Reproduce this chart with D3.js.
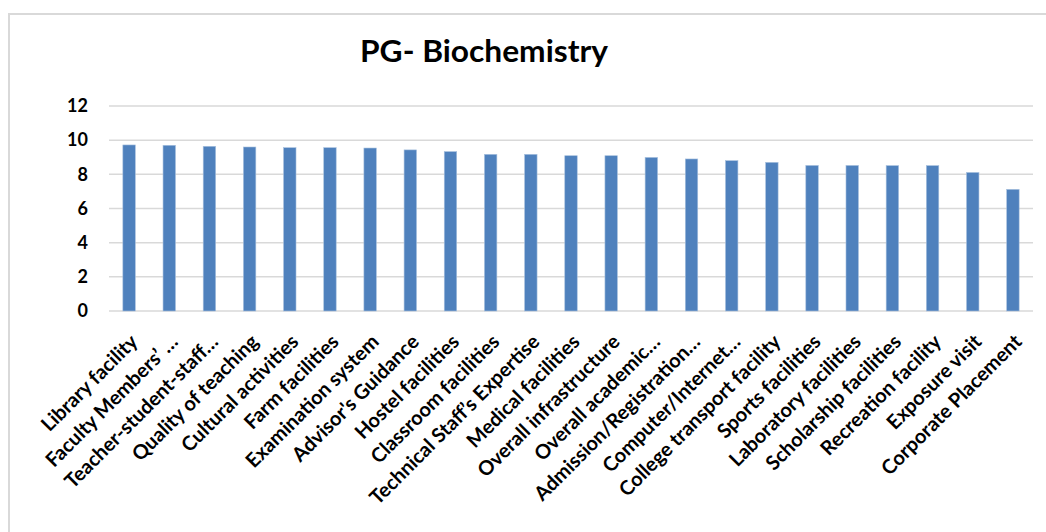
<!DOCTYPE html>
<html lang="en">
<head>
    <meta charset="UTF-8">
    <title>PG- Biochemistry</title>
    <script src="https://d3js.org/d3.v7.min.js"></script>
    <style>
        body { margin: 0; background: #fff; font-family: 'Lato', sans-serif; }
        svg { display: block; }
    </style>
</head>
<body>
    <svg id="chart" width="1046" height="532"></svg>
    <script>
        // chart data
        const categories = [
            "Library facility", "Faculty Members\u2019 \u2026", "Teacher-student-staff\u2026",
            "Quality of teaching", "Cultural activities", "Farm facilities",
            "Examination system", "Advisor's Guidance", "Hostel facilities",
            "Classroom facilities", "Technical Staff\u2019s Expertise", "Medical facilities",
            "Overall infrastructure", "Overall academic\u2026", "Admission/Registration\u2026",
            "Computer/Internet\u2026", "College transport facility", "Sports facilities",
            "Laboratory facilities", "Scholarship facilities", "Recreation facility",
            "Exposure visit", "Corporate Placement"
        ];
        const scores = [9.72, 9.70, 9.64, 9.60, 9.56, 9.56, 9.54, 9.43, 9.33, 9.17, 9.17,
            9.09, 9.09, 8.99, 8.90, 8.80, 8.70, 8.52, 8.52, 8.51, 8.51, 8.11, 7.12];
        const yTicks = [0, 2, 4, 6, 8, 10, 12];

        const svg = d3.select("#chart");
        const margin = { left: 109, right: 1033, top: 106, bottom: 311 };

        // outer chart frame
        svg.append("rect")
            .attr("x", 9).attr("y", 14)
            .attr("width", 1060).attr("height", 540)
            .attr("fill", "none").attr("stroke", "#d9d9d9").attr("stroke-width", 2);

        svg.append("text")
            .attr("x", 484).attr("y", 62)
            .attr("text-anchor", "middle")
            .attr("font-size", 30).attr("font-weight", "bold")
            .attr("textLength", 248).attr("lengthAdjust", "spacingAndGlyphs")
            .attr("fill", "#000")
            .text("PG- Biochemistry");

        const x = d3.scaleBand()
            .domain(categories)
            .range([margin.left, margin.right])
            .paddingInner(0.69).paddingOuter(0.345);

        const y = d3.scaleLinear()
            .domain([0, 12])
            .range([margin.bottom, margin.top]);

        // gridlines
        svg.append("g")
            .selectAll("line")
            .data(yTicks)
            .enter().append("line")
            .attr("x1", margin.left).attr("x2", margin.right)
            .attr("y1", d => y(d)).attr("y2", d => y(d))
            .attr("stroke", "#d9d9d9").attr("stroke-width", 1.5);

        // y axis labels
        const yAxis = d3.axisLeft(y).tickValues(yTicks).tickSize(0).tickPadding(0);
        const yg = svg.append("g")
            .attr("transform", "translate(88,0)")
            .call(yAxis);
        yg.select(".domain").remove();
        yg.selectAll("text")
            .attr("font-family", "Lato, sans-serif")
            .attr("font-size", 18).attr("font-weight", "bold")
            .attr("fill", "#000");

        // bars
        svg.append("g")
            .selectAll("rect")
            .data(scores)
            .enter().append("rect")
            .attr("x", (d, i) => x(categories[i]))
            .attr("y", d => y(d))
            .attr("width", x.bandwidth())
            .attr("height", d => y(0) - y(d))
            .attr("fill", "#4f81bd")
            .attr("stroke", "#a7c0de").attr("stroke-width", 0.6);

        // category labels, rotated
        svg.append("g")
            .selectAll("text")
            .data(categories)
            .enter().append("text")
            .attr("transform", d => `translate(${x(d) + x.bandwidth() / 2 + 10},${y(0) + 32}) rotate(-45)`)
            .attr("text-anchor", "end")
            .attr("font-size", 20).attr("font-weight", "bold")
            .attr("fill", "#000")
            .text(d => d);
    </script>
</body>
</html>
